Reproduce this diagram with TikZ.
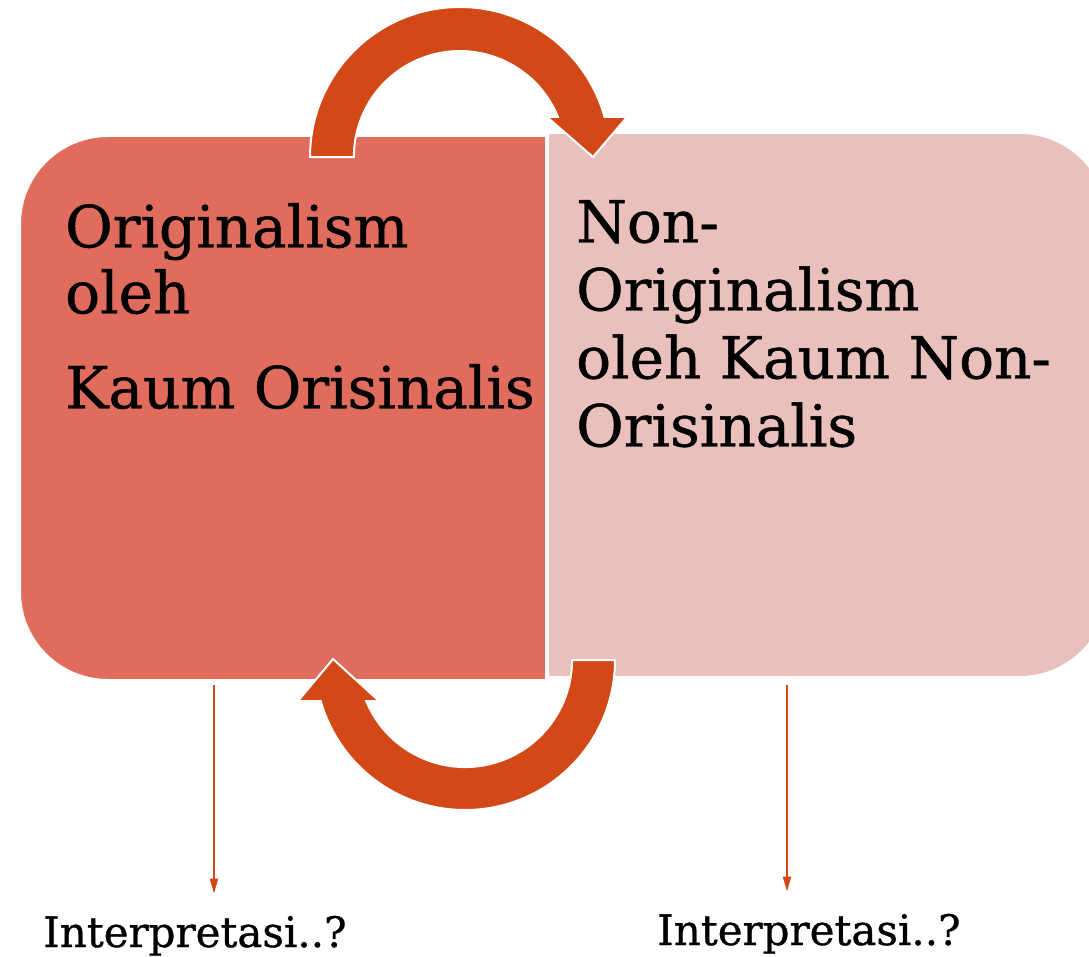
\documentclass[tikz,border=0pt]{standalone}
\usepackage{fontspec}
\setmainfont{DejaVu Serif}
\newfontfamily\slabfont{DejaVu Serif}[FakeBold=0.8]
\usetikzlibrary{arrows.meta}
\definecolor{panelred}{HTML}{E06C5E}
\definecolor{panelpink}{HTML}{EAC0BC}
\definecolor{arrowred}{HTML}{D34817}
\tikzset{
  >=Stealth,
  every node/.append style={inner sep=0pt},
}

\begin{document}
\begin{tikzpicture}[x=1pt, y=-1pt,
  panel/.style={draw=white, line width=2pt},
  bigarrow/.style={fill=arrowred, draw=white, line width=2pt, line join=miter},
  boxtext/.style={anchor=north west, align=left, font=\slabfont\fontsize{58}{66}\selectfont},
  asktext/.style={anchor=base west, font=\slabfont\fontsize{42}{50}\selectfont},
  thinarrow/.style={-{Triangle[length=15pt,width=8pt]}, draw=arrowred, line width=2pt}
]
\useasboundingbox (0,0) rectangle (1089,957);

% Panels, rounded on the outer side only
\path[panel, fill=panelred] (546,136) -- (108,136) arc[start angle=270, end angle=180, radius=88]
  -- (20,592) arc[start angle=180, end angle=90, radius=88] -- (546,680) -- cycle;
\path[panel, fill=panelpink] (548,133) -- (1020,133) arc[start angle=270, end angle=360, radius=88]
  -- (1108,589) arc[start angle=0, end angle=90, radius=88] -- (548,677) -- cycle;

% Curved arrows between the panels
\path[bigarrow] (310,157) arc[start angle=180, end angle=344.5, radius=150]
  -- (627,117) -- (593,157) -- (547,117) -- (558,117)
  arc[start angle=337.8, end angle=180, radius=106] -- cycle;
\path[bigarrow] (615,660) arc[start angle=0, end angle=164.1, radius=150]
  -- (298,701) -- (333,659) -- (379,701) -- (366.2,701)
  arc[start angle=157.5, end angle=0, radius=107] -- cycle;

% Panel texts
\node[boxtext] (orig) at (65,203) {Originalism\\oleh\\[29pt]Kaum Orisinalis};
\node[boxtext, font=\slabfont\fontsize{58}{68}\selectfont] (nonorig) at (576,200)
  {Non-\\Originalism\\oleh Kaum Non-\\Orisinalis};

% Questions below
\node[asktext] (askorig) at (43,947) {Interpretasi..?};
\node[asktext] (asknon) at (657,945) {Interpretasi..?};

\coordinate (origfoot) at (214,685);
\coordinate (nonfoot) at (787,685);
\draw[thinarrow, shorten >=22pt] (origfoot) -- (origfoot |- askorig.north);
\draw[thinarrow, shorten >=22pt] (nonfoot) -- (nonfoot |- asknon.north);

\end{tikzpicture}
\end{document}
